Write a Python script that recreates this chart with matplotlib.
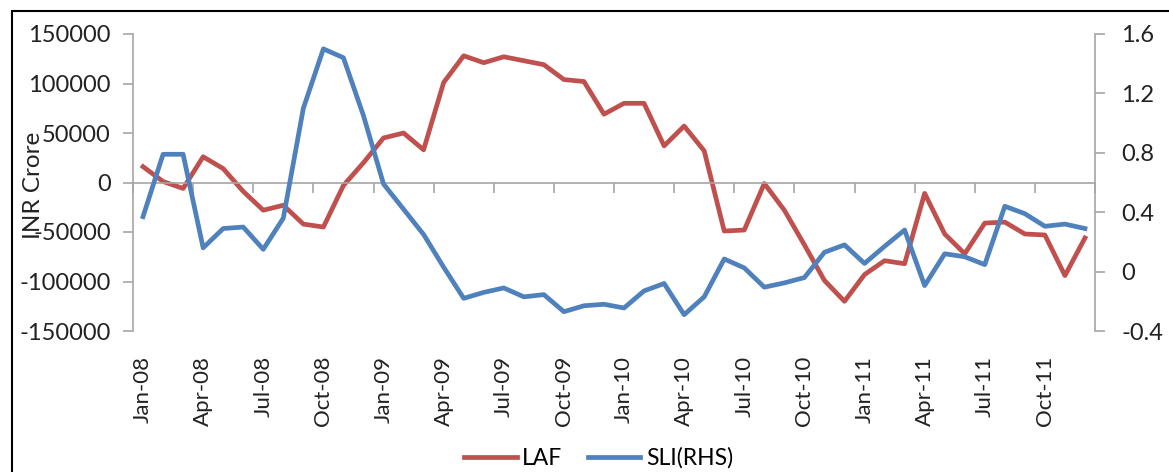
import matplotlib
matplotlib.use("Agg")
import matplotlib.pyplot as plt
from matplotlib.patches import Rectangle
import numpy as np

plt.rcParams['font.family'] = ['Lato', 'DejaVu Sans']
plt.rcParams['axes.unicode_minus'] = False

# monthly data, Jan-08 .. Dec-11
months = ['Jan-08', 'Feb-08', 'Mar-08', 'Apr-08', 'May-08', 'Jun-08', 'Jul-08', 'Aug-08', 'Sep-08',
          'Oct-08', 'Nov-08', 'Dec-08', 'Jan-09', 'Feb-09', 'Mar-09', 'Apr-09', 'May-09', 'Jun-09',
          'Jul-09', 'Aug-09', 'Sep-09', 'Oct-09', 'Nov-09', 'Dec-09', 'Jan-10', 'Feb-10', 'Mar-10',
          'Apr-10', 'May-10', 'Jun-10', 'Jul-10', 'Aug-10', 'Sep-10', 'Oct-10', 'Nov-10', 'Dec-10',
          'Jan-11', 'Feb-11', 'Mar-11', 'Apr-11', 'May-11', 'Jun-11', 'Jul-11', 'Aug-11', 'Sep-11',
          'Oct-11', 'Nov-11', 'Dec-11']

laf = [16000, 1000, -6000, 26000, 14000, -9000, -28000, -23000, -42000, -45000, -3000, 20000,
       45000, 50000, 33000, 101000, 128000, 121000, 127000, 123000, 119000, 104000, 102000, 69000,
       80000, 80000, 37000, 57000, 32000, -49000, -48000, -1000, -28000, -63000, -99000, -120000,
       -93000, -79000, -82000, -11000, -52000, -72000, -41000, -40000, -52000, -53000, -94000, -56000]

sli = [0.37, 0.79, 0.79, 0.16, 0.29, 0.30, 0.15, 0.36, 1.10, 1.50, 1.44, 1.05,
       0.59, 0.42, 0.25, 0.03, -0.18, -0.14, -0.11, -0.17, -0.155, -0.27, -0.23, -0.22,
       -0.245, -0.13, -0.08, -0.29, -0.17, 0.085, 0.025, -0.105, -0.076, -0.04, 0.13, 0.18,
       0.055, 0.17, 0.28, -0.094, 0.12, 0.10, 0.047, 0.44, 0.39, 0.305, 0.32, 0.29]

left_ticks = [-150000, -100000, -50000, 0, 50000, 100000, 150000]
right_ticks = [-0.4, 0, 0.4, 0.8, 1.2, 1.6]
right_labels = ['-0.4', '0', '0.4', '0.8', '1.2', '1.6']

red = '#C0504D'
blue = '#4F81BD'
grey = '#A6A6A6'

x = np.arange(len(months))

fig = plt.figure(figsize=(11.69, 4.72), dpi=100)
ax = fig.add_axes([133 / 1169, 1 - 331 / 472, (1095 - 133) / 1169, 297 / 472])
ax2 = ax.twinx()

l1, = ax.plot(x, laf, color=red, lw=3.4, solid_joinstyle='round', label='LAF')
l2, = ax2.plot(x, sli, color=blue, lw=3.4, solid_joinstyle='round', label='SLI(RHS)')

ax.set_xlim(-0.5, len(months) - 0.5)
ax.set_ylim(-150000, 150000)
ax2.set_ylim(-0.4, 1.6)

ax.set_yticks(left_ticks)
ax.set_yticklabels([str(v) for v in left_ticks])
ax2.set_yticks(right_ticks)
ax2.set_yticklabels(right_labels)

for a in (ax, ax2):
    a.spines['top'].set_visible(False)
    for s in a.spines.values():
        s.set_color(grey)
        s.set_linewidth(1.2)
ax.spines['right'].set_visible(False)
ax2.spines['left'].set_visible(False)
ax2.spines['bottom'].set_visible(False)

# category axis crosses at zero
ax.spines['bottom'].set_position(('data', 0))
ax.set_xticks([])
ax.set_xticks(np.arange(-0.5, len(months), 3), minor=True)
ax.tick_params(axis='x', which='minor', direction='out', length=7, width=1.2, color=grey)
ax.tick_params(axis='y', direction='out', length=7, width=1.2, color=grey,
               labelsize=17, pad=9, labelcolor='#222222')
ax2.tick_params(axis='y', direction='out', length=7, width=1.2, color=grey,
                labelsize=17, pad=12, labelcolor='#222222')

# month labels at bottom of plot area
sec = ax.secondary_xaxis(0)
sec.set_xticks(x[::3])
sec.set_xticklabels(months[::3], rotation=90, fontsize=16, color='#222222')
sec.tick_params(length=0, pad=18)
sec.spines['bottom'].set_visible(False)

fig.text(33 / 1169, 1 - 185 / 472, 'INR Crore', rotation=90, fontsize=17.5,
         ha='center', va='center', color='#222222')

fig.legend([l1, l2], ['LAF', 'SLI(RHS)'], loc='center', bbox_to_anchor=(0.512, 0.030),
           ncol=2, frameon=False, fontsize=16.5, handlelength=2.3, handletextpad=0.25,
           columnspacing=1.1)

# chart frame (only top and left visible in the crop)
fig.patches.append(Rectangle((12 / 1169, -0.1), 1.2, 1.1 - 10.5 / 472, transform=fig.transFigure,
                             fill=False, edgecolor='black', lw=1.5))

fig.savefig('out.png', dpi=100)
